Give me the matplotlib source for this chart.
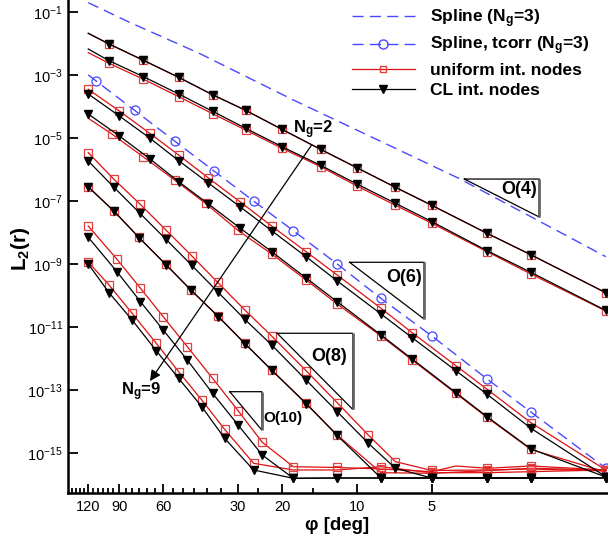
import matplotlib
matplotlib.use("Agg")
import matplotlib.pyplot as plt
from matplotlib.lines import Line2D
from matplotlib.ticker import FixedLocator, NullLocator, NullFormatter

plt.rcParams['font.family'] = ['Liberation Sans', 'DejaVu Sans']
plt.rcParams['mathtext.fontset'] = 'custom'
plt.rcParams['mathtext.rm'] = 'Liberation Sans'
plt.rcParams['mathtext.it'] = 'Liberation Sans:italic'
plt.rcParams['mathtext.bf'] = 'Liberation Sans:bold'
plt.rcParams['mathtext.default'] = 'regular'

# -------------------------
# data: phi [deg] vs L2(r)
# -------------------------
spline_phi = [120, 83, 43, 18, 3.9, 1.5, 1]
spline_l2 = [2.02e-1, 5.03e-2, 4.97e-3, 1.63e-4, 5.29e-7, 9.45e-9, 1.70e-9]

tcorr_phi = [120, 112, 78, 54, 37.5, 26, 18, 12, 8, 5, 3, 2, 1]
tcorr_l2 = [1.02e-3, 6.69e-4, 7.56e-5, 8.11e-6, 9.03e-7, 1.00e-7, 1.14e-8,
            9.99e-10, 8.0e-11, 5.14e-12, 2.21e-13, 1.97e-14, 3.21e-16]

# Ng = 2
ng2_phi = [120, 99, 72, 52, 38, 28, 20, 14, 10, 7, 5, 3, 2, 1]
ng2_uni = [2.13e-2, 9.75e-3, 2.95e-3, 8.50e-4, 2.38e-4, 7.60e-5, 1.89e-5,
           4.38e-6, 1.14e-6, 2.71e-7, 7.26e-8, 9.36e-9, 1.95e-9, 1.21e-10]
ng2_cl = [2.15e-2, 9.83e-3, 2.98e-3, 8.59e-4, 2.40e-4, 7.67e-5, 1.91e-5,
          4.42e-6, 1.15e-6, 2.74e-7, 7.33e-8, 9.45e-9, 1.97e-9, 1.22e-10]

# Ng = 3
ng3_phi = [120, 99, 72, 52, 38, 28, 20, 14, 10, 7, 5, 3, 2, 1]
ng3_uni = [5.20e-3, 2.39e-3, 7.42e-4, 2.08e-4, 5.98e-5, 1.81e-5, 4.75e-6,
           1.24e-6, 3.01e-7, 7.33e-8, 1.96e-8, 2.46e-9, 4.80e-10, 3.20e-11]
ng3_cl = [6.81e-3, 2.89e-3, 8.97e-4, 2.53e-4, 7.13e-5, 2.06e-5, 5.35e-6,
          1.37e-6, 3.48e-7, 8.49e-8, 2.21e-8, 2.64e-9, 5.44e-10, 3.32e-11]

# Ng = 4
ng4_phi = [120, 90, 68, 52, 39.5, 29.5, 22, 16, 12, 8, 6, 4, 3, 2, 1]
ng4_uni = [3.57e-4, 7.29e-5, 1.43e-5, 2.91e-6, 5.41e-7, 9.54e-8, 1.61e-8, 2.46e-9,
           4.46e-10, 3.90e-11, 6.54e-12, 5.84e-13, 1.04e-13, 9.01e-15, 2.83e-16]
ng4_cl = [2.53e-4, 5.05e-5, 1.01e-5, 1.92e-6, 3.75e-7, 6.62e-8, 1.14e-8, 1.70e-9,
          2.88e-10, 2.57e-11, 4.54e-12, 4.05e-13, 7.21e-14, 5.98e-15, 1.73e-16]

# Ng = 5
ng5_phi_uni = [120, 96, 72, 54, 40.5, 30, 22, 16, 12, 8, 6, 4, 3, 2, 1]
ng5_uni = [4.27e-5, 1.32e-5, 2.52e-6, 4.67e-7, 8.36e-8, 1.16e-8, 2.08e-9, 3.10e-10,
           5.34e-11, 5.14e-12, 8.87e-13, 7.64e-14, 1.32e-14, 1.27e-15, 2.44e-16]
ng5_phi_cl = [120, 90, 68, 52, 39.5, 29.5, 22, 16, 12, 8, 6, 4, 3, 2, 1]
ng5_cl = [5.85e-5, 1.17e-5, 2.22e-6, 4.12e-7, 8.06e-8, 1.39e-8, 2.46e-9, 3.58e-10,
          6.32e-11, 5.53e-12, 9.54e-13, 8.10e-14, 1.40e-14, 1.32e-15, 1.69e-16]

# Ng = 6
ng6_phi = [120, 94.6, 74.4, 58.5, 46, 36.2, 28.2, 22, 16, 12, 9, 7, 5, 3, 2, 1]
ng6_uni = [3.45e-6, 4.92e-7, 8.06e-8, 1.20e-8, 1.79e-9, 2.58e-10, 3.45e-11, 5.14e-12,
           4.05e-13, 3.90e-14, 3.66e-15, 5.19e-16, 2.73e-16, 2.83e-16, 3.04e-16, 2.63e-16]
ng6_cl = [1.88e-6, 2.74e-7, 4.08e-8, 6.09e-9, 8.95e-10, 1.29e-10, 1.74e-11, 2.66e-12,
          2.05e-13, 2.02e-14, 2.00e-15, 3.20e-16, 1.57e-16, 1.57e-16, 1.57e-16, 1.60e-16]

# Ng = 7
ng7_phi = [120, 94.6, 75, 58.5, 46.4, 36, 28.2, 22, 16, 12, 8, 5, 3, 2, 1]
ng7_uni = [2.86e-7, 4.83e-8, 6.95e-9, 9.63e-10, 1.49e-10, 2.14e-11, 3.01e-12, 4.27e-13,
           3.73e-14, 3.66e-15, 2.32e-16, 2.22e-16, 2.69e-16, 3.20e-16, 2.83e-16]
ng7_cl = [2.80e-7, 4.75e-8, 6.85e-9, 9.50e-10, 1.47e-10, 2.10e-11, 2.95e-12, 4.20e-13,
          3.65e-14, 3.55e-15, 1.57e-16, 1.57e-16, 1.57e-16, 1.57e-16, 1.60e-16]

# Ng = 8
ng8_phi_uni = [120, 92, 74, 60, 48, 38, 30, 24, 18, 12, 8, 5, 4, 3, 2, 1]
ng8_uni = [1.61e-8, 1.41e-9, 1.69e-10, 2.11e-11, 2.35e-12, 2.32e-13, 2.17e-14, 2.15e-15,
           3.60e-16, 3.40e-16, 3.04e-16, 2.50e-16, 3.79e-16, 3.20e-16, 3.79e-16, 2.83e-16]
ng8_phi_cl = [120, 92, 74, 60, 48, 38, 30, 24, 18, 12, 8, 5, 3, 2, 1]
ng8_cl = [7.05e-9, 5.68e-10, 6.32e-11, 7.97e-12, 8.87e-13, 7.75e-14, 7.61e-15, 8.48e-16,
          1.54e-16, 1.57e-16, 1.57e-16, 1.57e-16, 1.57e-16, 1.57e-16, 1.62e-16]

# Ng = 9
ng9_phi = [120, 99, 80, 64, 52, 42, 34, 26, 18, 12, 8, 5, 3, 2, 1]
ng9_uni = [1.15e-9, 2.15e-10, 2.71e-11, 3.01e-12, 3.77e-13, 4.75e-14, 5.56e-15, 4.62e-16,
           2.83e-16, 2.83e-16, 3.60e-16, 2.32e-16, 2.32e-16, 2.50e-16, 2.83e-16]
ng9_cl = [9.99e-10, 1.22e-10, 1.66e-11, 1.75e-12, 2.32e-13, 2.91e-14, 2.88e-15, 2.83e-16,
          1.54e-16, 1.57e-16, 1.57e-16, 1.57e-16, 1.57e-16, 1.57e-16, 1.62e-16]

xticks_major = [120, 90, 60, 30, 20, 10, 5]
xticks_minor = [140, 135, 130, 125, 115, 110, 105, 100, 95, 85, 80, 75, 70, 65,
                55, 50, 45, 40, 35, 25, 15]
yticks_exp = [-1, -3, -5, -7, -9, -11, -13, -15]

# -------------------------
# styles
# -------------------------
RED = '#dd1010'
RED_MK = '#e04040'
BLUE = '#4848ff'
DASH = (8, 4.5)

fig = plt.figure(figsize=(6.08, 5.39), dpi=100)
ax = fig.add_axes([68.3 / 608, 46 / 539, 539.7 / 608, 493 / 539])


def curve(phi, l2, kind, skip=()):
    idx = [i for i in range(len(phi)) if i not in skip]
    if kind == 'uni':
        ax.plot(phi, l2, color=RED, lw=0.9, marker='s', ms=5.3, mfc='none',
                mec=RED_MK, mew=0.9, markevery=idx, zorder=3)
    else:
        ax.plot(phi, l2, color='black', lw=0.9, marker='v', ms=5.7, mfc='black',
                mec='black', markevery=idx, zorder=4)


ax.plot(spline_phi, spline_l2, color=BLUE, lw=1.0, dashes=DASH, zorder=2)
ax.plot(tcorr_phi, tcorr_l2, color=BLUE, lw=1.0, dashes=DASH, marker='o', ms=6.5,
        mfc='none', mec=BLUE, mew=0.9, markevery=list(range(1, len(tcorr_phi))), zorder=2)

curve(ng2_phi, ng2_uni, 'uni', skip=(0,))
curve(ng2_phi, ng2_cl, 'cl', skip=(0,))
curve(ng3_phi, ng3_uni, 'uni', skip=(0,))
curve(ng3_phi, ng3_cl, 'cl', skip=(0,))
curve(ng4_phi, ng4_uni, 'uni')
curve(ng4_phi, ng4_cl, 'cl')
curve(ng5_phi_uni, ng5_uni, 'uni', skip=(0,))
curve(ng5_phi_cl, ng5_cl, 'cl')
curve(ng6_phi, ng6_uni, 'uni')
curve(ng6_phi, ng6_cl, 'cl')
curve(ng7_phi, ng7_uni, 'uni')
curve(ng7_phi, ng7_cl, 'cl')
curve(ng8_phi_uni, ng8_uni, 'uni', skip=(12,))
curve(ng8_phi_cl, ng8_cl, 'cl')
curve(ng9_phi, ng9_uni, 'uni')
curve(ng9_phi, ng9_cl, 'cl')

# slope triangles O(n)
tri_specs = [
    ((3.7, 1.85), (5.0e-7, 3.1e-8), 'O(4)', (2.24, 2.25e-7), 13),
    ((10.7, 5.37), (1.13e-9, 1.78e-11), 'O(6)', (6.47, 3.58e-10), 13),
    ((20.9, 10.4), (6.26e-12, 2.40e-14), 'O(8)', (12.96, 1.13e-12), 13),
    ((32.4, 24.1), (8.71e-14, 5.28e-15), 'O(10)', (19.9, 1.24e-14), 11),
]
for (p0, p1), (y0, y1), lab, (tx, ty), fs in tri_specs:
    ax.plot([p0, p1, p1, p0], [y0, y0, y1, y0], color='black', lw=0.9, zorder=5)
    ax.plot([p1, p1], [y0, y1], color='#666666', lw=2.0, zorder=5,
            solid_capstyle='butt')
    ax.text(tx, ty, lab, ha='center', va='center', fontsize=fs, fontweight='bold', zorder=6)

# Ng arrow
ax.annotate('', xy=(67.8, 1.9e-13), xytext=(15.2, 6.05e-6),
            arrowprops=dict(arrowstyle='-|>', color='black', lw=0.9,
                            mutation_scale=16, shrinkA=0, shrinkB=0), zorder=6)
ax.text(15.0, 1.9e-5, r'N$_\mathbf{g}$=2', ha='center', va='center',
        fontsize=12, fontweight='bold', zorder=6)
ax.text(73.7, 8.8e-14, r'N$_\mathbf{g}$=9', ha='center', va='center',
        fontsize=12, fontweight='bold', zorder=6)

# axes
ax.set_xscale('log')
ax.set_yscale('log')
ax.set_xlim(144.3, 0.98)
ax.set_ylim(10 ** -16.28, 10 ** -0.61)

ax.set_xticks(xticks_major)
ax.set_xticklabels([str(v) for v in xticks_major])
ax.xaxis.set_minor_locator(FixedLocator(xticks_minor))
ax.xaxis.set_minor_formatter(NullFormatter())
ax.set_yticks([10.0 ** e for e in yticks_exp])
ax.set_yticklabels([r'$10^{%d}$' % e for e in yticks_exp])
ax.yaxis.set_minor_locator(NullLocator())

ax.tick_params(which='both', direction='in', width=1.3, labelsize=10.5)
ax.tick_params(axis='x', which='major', length=6.5, pad=5)
ax.tick_params(axis='x', which='minor', length=3.5)
ax.tick_params(axis='y', which='major', length=7, pad=4)
for s in ['top', 'right']:
    ax.spines[s].set_visible(False)
for s in ['left', 'bottom']:
    ax.spines[s].set_linewidth(1.8)

fig.text(20 / 608, 1 - 249 / 539, r'L$_\mathbf{2}$(r)', rotation=90, ha='center',
         va='center', fontsize=15, fontweight='bold')
fig.text(337 / 608, 1 - 525 / 539, 'φ [deg]', ha='center', va='center',
         fontsize=13.5, fontweight='bold')

handles = [
    Line2D([], [], color=BLUE, lw=1.0, dashes=DASH),
    Line2D([], [], color=BLUE, lw=1.0, dashes=DASH, marker='o', ms=6.5, mfc='none', mec=BLUE),
    Line2D([], [], color=RED, lw=0.9, marker='s', ms=5, mfc='none', mec=RED_MK),
    Line2D([], [], color='black', lw=0.9, marker='v', ms=5.5, mfc='black'),
]
labels = [r'Spline (N$_\mathbf{g}$=3)', r'Spline, tcorr (N$_\mathbf{g}$=3)',
          'uniform int. nodes', 'CL int. nodes']
ax.legend(handles, labels, loc='upper left', bbox_to_anchor=(352 / 608, 1 - 7 / 539),
          bbox_transform=fig.transFigure, frameon=False,
          prop=dict(weight='bold', size=12.5), handlelength=3.6, handletextpad=0.9,
          labelspacing=0.3, borderpad=0, borderaxespad=0, numpoints=1)

fig.savefig('out.png', dpi=100, facecolor='white')
